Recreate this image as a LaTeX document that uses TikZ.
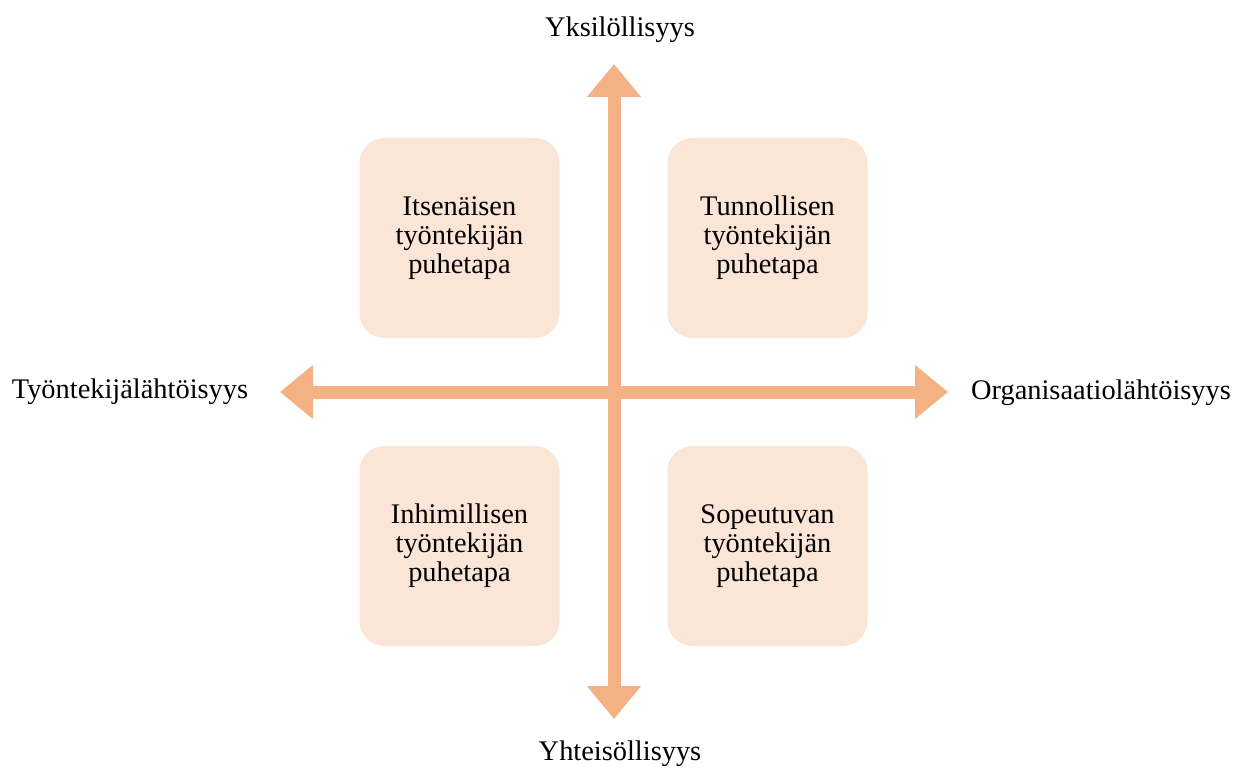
\documentclass[tikz,border=0pt]{standalone}
\usepackage{fontspec}
\setmainfont{Liberation Serif}
\usetikzlibrary{arrows.meta}

\definecolor{axisorange}{HTML}{F4B183}
\definecolor{boxpeach}{HTML}{FBE5D6}

\tikzset{
  axis/.style = {draw=axisorange, line width=6.5pt,
    {Triangle[length=16.5pt, width=26pt]}-{Triangle[length=16.5pt, width=26pt]}},
  quadrant/.style = {fill=boxpeach, rounded corners=12.5pt, minimum width=100pt,
    minimum height=100pt, align=center, inner sep=0pt},
  axislabel/.style = {inner sep=0pt}
}

\begin{document}
\begin{tikzpicture}[x=0.5pt, y=-0.5pt, font=\fontsize{14.2}{14.5}\selectfont]
              \useasboundingbox (0, 0) rectangle (1234, 769);

              \node [quadrant] (itse) at (459.5, 238) {Itsenäisen\\työntekijän\\puhetapa};
              \node [quadrant] (tunn) at (767.5, 238) {Tunnollisen\\työntekijän\\puhetapa};
              \node [quadrant] (inhi) at (459.5, 546) {Inhimillisen\\työntekijän\\puhetapa};
              \node [quadrant] (sope) at (767.5, 546) {Sopeutuvan\\työntekijän\\puhetapa};

              \coordinate (ylos) at (614, 64);
              \coordinate (alas) at (614, 719);
              \coordinate (vasen) at (280, 392);
              \coordinate (oikea) at (948, 392);

              \draw [axis] (alas) -- (ylos);
              \draw [axis] (vasen) -- (oikea);

              \node [axislabel] (yksi) at (620, 30) {Yksilöllisyys};
              \node [axislabel] (yhte) at (620, 754) {Yhteisöllisyys};
              \node [axislabel] (tyon) at (130, 392) {Työntekijälähtöisyys};
              \node [axislabel] (orga) at (1101, 393) {Organisaatiolähtöisyys};

            \end{tikzpicture}
\end{document}
